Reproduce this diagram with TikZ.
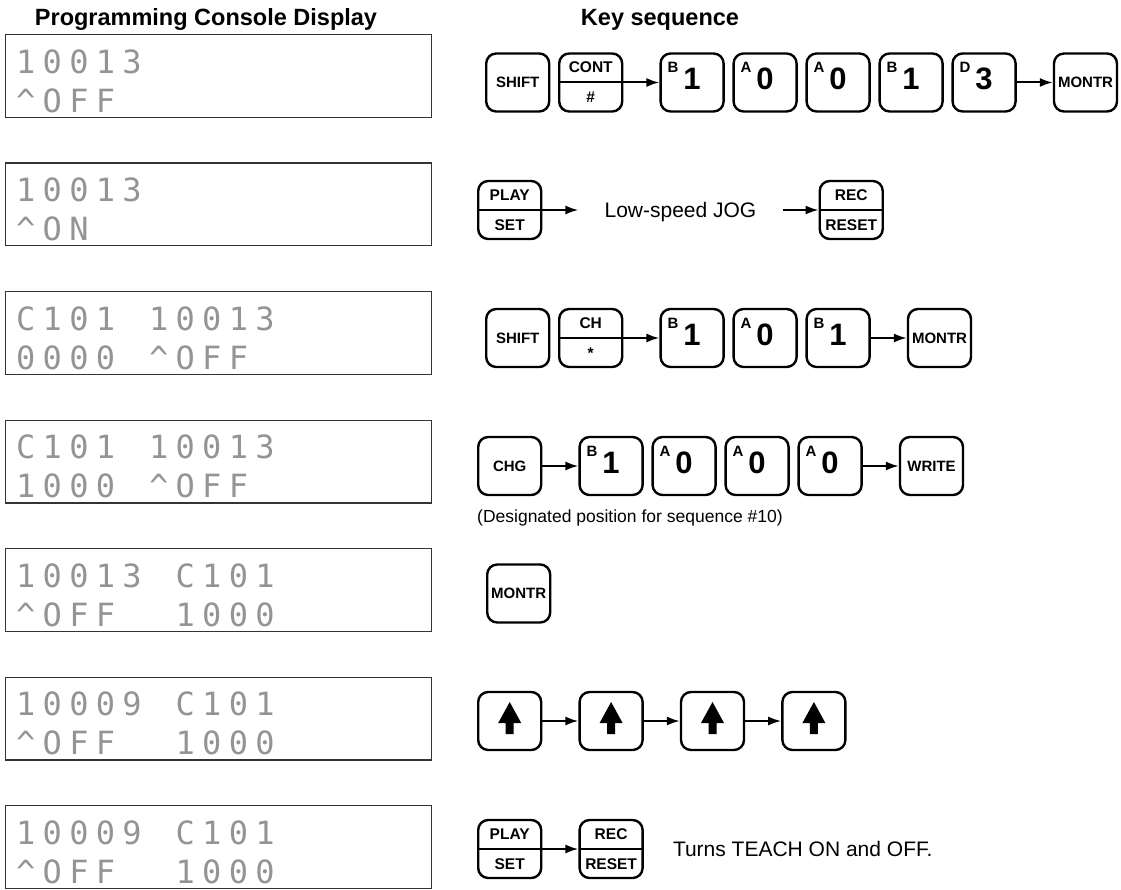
\documentclass[tikz,border=0pt]{standalone}
\usepackage{fontspec}
\setmainfont{Liberation Sans}
\newfontfamily\lcdfont{DejaVu Sans Mono}
\usetikzlibrary{arrows.meta,positioning}
\ExplSyntaxOn
\NewDocumentCommand\lcdrow{m}{\exp_args:No\tl_map_inline:nn{#1}{\makebox[26.6pt]{##1}}}
\ExplSyntaxOff

\begin{document}
\begin{tikzpicture}[x=1pt,y=-1pt,node distance=7.6pt,
 key/.style={draw,line width=2.4pt,rounded corners=10pt,minimum width=63pt,minimum height=58pt,inner sep=0pt,font=\bfseries\fontsize{15}{15}\selectfont},
 fkey/.style={key,align=center,font=\bfseries\fontsize{15.5}{30}\selectfont,path picture={\draw[line width=2pt,sharp corners] (path picture bounding box.west)--(path picture bounding box.east);}},
 dkey/.style={key,font=\bfseries\fontsize{31}{31}\selectfont,text depth=7pt,label={[font=\bfseries\fontsize{15}{15}\selectfont,anchor=north west,inner sep=0pt,text depth=0pt,xshift=8pt,yshift=-10pt]north west:#1}},
 upkey/.style={key,path picture={\fill[sharp corners,shift={(path picture bounding box.center)}] (0,-19)--(11.5,2)--(4,2)--(4,13)--(-4,13)--(-4,2)--(-11.5,2)--cycle;}},
 arr/.style={-{Latex[length=13pt,width=9pt]},line width=2pt},
 disp/.style={draw=black!80,line width=1.2pt,minimum width=425.8pt,minimum height=82.8pt,anchor=north west,inner sep=0pt},
 lcd/.style={font=\lcdfont\fontsize{32}{32}\selectfont,text=black!42,inner sep=0pt,anchor=west,text height=23.3pt,text depth=0pt},
 head/.style={font=\bfseries\fontsize{23.5}{23.5}\selectfont,text depth=0pt},
 note/.style={font=\fontsize{21}{21}\selectfont,text depth=0pt}]
\useasboundingbox (0,0) rectangle (1121,890);
\node[head] (hd1) at (206,17) {Programming Console Display};
\node[head] (hd2) at (660,17) {Key sequence};
% console displays
\foreach \n/\y/\ta/\tb in {1/34/10013/\textasciicircum OFF,2/162.5/10013/\textasciicircum ON,3/291/C101~10013/0000~\textasciicircum OFF,4/419.5/C101~10013/1000~\textasciicircum OFF,5/548/10013~C101/\textasciicircum OFF~~1000,6/676.5/10009~C101/\textasciicircum OFF~~1000,7/805/10009~C101/\textasciicircum OFF~~1000}{
 \node[disp] (d\n) at (5,\y) {};
 \node[lcd] (t\n) at ([xshift=7.2pt,yshift=-27.5pt]d\n.north west) {\lcdrow{\ta}};
 \node[lcd] (b\n) at ([xshift=7.2pt,yshift=-66.5pt]d\n.north west) {\lcdrow{\tb}};
}
% row 1
\node[key] (r1a) at (517.7,82.5) {SHIFT};
\node[fkey,right=of r1a] (r1b) {CONT\\\#};
\node[dkey=B,right=36pt of r1b] (r1c) {1};
\node[dkey=A,right=of r1c] (r1d) {0};
\node[dkey=A,right=of r1d] (r1e) {0};
\node[dkey=B,right=of r1e] (r1f) {1};
\node[dkey=D,right=of r1f] (r1g) {3};
\node[key,right=36pt of r1g] (r1h) {MONTR};
\draw[arr] (r1b)--(r1c);\draw[arr] (r1g)--(r1h);
% row 2
\node[fkey] (r2a) at (509.7,210) {PLAY\\SET};
\node[note,inner xsep=26pt,right=36pt of r2a] (r2b) {Low-speed JOG};
\node[fkey,right=36pt of r2b] (r2c) {REC\\RESET};
\draw[arr] (r2a)--(r2b);\draw[arr] (r2b)--(r2c);
% row 3
\node[key] (r3a) at (517.7,338) {SHIFT};
\node[fkey,right=of r3a] (r3b) {CH\\{*}};
\node[dkey=B,right=36pt of r3b] (r3c) {1};
\node[dkey=A,right=of r3c] (r3d) {0};
\node[dkey=B,right=of r3d] (r3e) {1};
\node[key,right=36pt of r3e] (r3f) {MONTR};
\draw[arr] (r3b)--(r3c);\draw[arr] (r3e)--(r3f);
% row 4
\node[key] (r4a) at (509.7,466) {CHG};
\node[dkey=B,right=36pt of r4a] (r4b) {1};
\node[dkey=A,right=of r4b] (r4c) {0};
\node[dkey=A,right=of r4c] (r4d) {0};
\node[dkey=A,right=of r4d] (r4e) {0};
\node[key,right=36pt of r4e] (r4f) {WRITE};
\draw[arr] (r4a)--(r4b);\draw[arr] (r4e)--(r4f);
\node[font=\fontsize{17.5}{17.5}\selectfont,inner sep=0pt,below right=13pt and 0pt of r4a.south west] (r4n) {(Designated position for sequence \#10)};
% row 5
\node[key] (r5a) at (518.7,593.5) {MONTR};
% row 6
\node[upkey] (r6a) at (509.7,721) {};
\node[upkey,right=36pt of r6a] (r6b) {};
\node[upkey,right=36pt of r6b] (r6c) {};
\node[upkey,right=36pt of r6c] (r6d) {};
\draw[arr] (r6a)--(r6b);\draw[arr] (r6b)--(r6c);\draw[arr] (r6c)--(r6d);
% row 7
\node[fkey] (r7a) at (509.7,849) {PLAY\\SET};
\node[fkey,right=36pt of r7a] (r7b) {REC\\RESET};
\node[note,inner sep=0pt,right=29pt of r7b] (r7c) {Turns TEACH ON and OFF.};
\draw[arr] (r7a)--(r7b);
\end{tikzpicture}
\end{document}
